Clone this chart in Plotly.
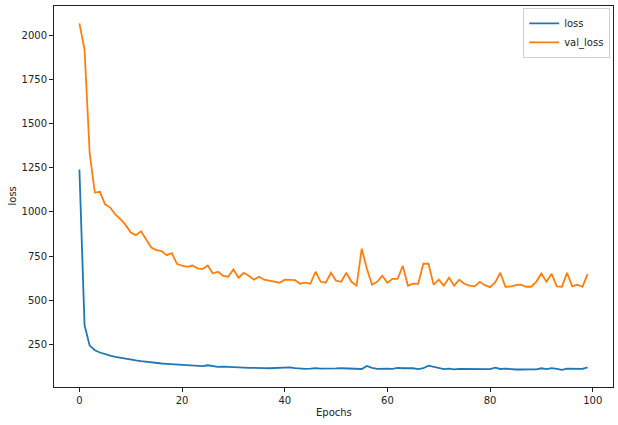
import plotly.graph_objects as go

# Training history
epochs = list(range(100))

loss = [
    1240, 360, 244, 218, 205, 195, 188, 181, 175, 169,
    164, 160, 156, 152, 148, 145, 143, 141, 139, 137,
    135, 134, 132, 130, 128, 133, 129, 124, 125, 123,
    120, 121, 119, 118, 118, 119, 117, 116, 117, 115,
    116, 121, 117, 114, 112, 114, 117, 114, 113, 115,
    115, 116, 115, 118, 114, 112, 129, 118, 112, 114,
    114, 113, 118, 116, 117, 116, 111, 116, 131, 125,
    116, 111, 114, 110, 112, 112, 112, 111, 112, 110,
    111, 119, 112, 114, 110, 109, 109, 111, 110, 110,
    116, 111, 117, 113, 107, 114, 112, 111, 112, 121,
]

val_loss = [
    2067, 1919, 1333, 1110, 1114, 1043, 1025, 986, 959, 927,
    884, 869, 891, 843, 799, 784, 779, 756, 767, 707,
    696, 690, 697, 681, 677, 697, 652, 662, 639, 634,
    675, 628, 656, 639, 617, 634, 617, 611, 605, 600,
    617, 617, 614, 594, 600, 594, 662, 605, 600, 656,
    611, 605, 656, 605, 583, 792, 679, 589, 605, 639,
    600, 622, 622, 696, 583, 594, 594, 707, 707, 589,
    617, 583, 628, 583, 617, 594, 583, 579, 605, 586,
    575, 602, 656, 577, 578, 586, 589, 577, 577, 605,
    652, 605, 650, 579, 577, 656, 579, 589, 577, 648,
]

x_ticks = [0, 20, 40, 60, 80, 100]
y_ticks = [250, 500, 750, 1000, 1250, 1500, 1750, 2000]

FONT = "DejaVu Sans, sans-serif"

fig = go.Figure()
fig.add_trace(go.Scatter(x=epochs, y=loss, mode="lines", name="loss",
                         line=dict(color="#1f77b4", width=1.8)))
fig.add_trace(go.Scatter(x=epochs, y=val_loss, mode="lines", name="val_loss",
                         line=dict(color="#ff7f0e", width=1.8)))

axis_style = dict(
    showline=True, linecolor="#222", linewidth=1, mirror=True,
    ticks="outside", ticklen=4, tickcolor="#222", tickwidth=1,
    showgrid=False, zeroline=False, automargin=False,
    tickfont=dict(family=FONT, size=10, color="#222"),
)

fig.update_layout(
    width=618, height=425,
    plot_bgcolor="white", paper_bgcolor="white",
    margin=dict(l=54, r=5, t=6, b=38, autoexpand=False),
    font=dict(family=FONT, size=10, color="#222"),
    legend=dict(x=0.995, y=0.995, xanchor="right", yanchor="top",
                bordercolor="#d0d0d0", borderwidth=1, bgcolor="white",
                itemwidth=30, tracegroupgap=0,
                font=dict(family=FONT, size=10)),
    showlegend=True,
)
fig.update_xaxes(range=[-4.95, 103.95], tickvals=x_ticks, **axis_style)
fig.update_yaxes(range=[10, 2165], tickvals=y_ticks, **axis_style)

# axis titles placed as annotations so they sit where the reference has them
fig.add_annotation(text="Epochs", xref="paper", yref="paper", x=0.5, y=0,
                   yshift=-25, showarrow=False, yanchor="middle",
                   font=dict(family=FONT, size=10, color="#222"))
fig.add_annotation(text="loss", xref="paper", yref="paper", x=0, y=0.5,
                   xshift=-42, showarrow=False, textangle=-90, xanchor="center",
                   font=dict(family=FONT, size=10, color="#222"))

# drop the page's default body margin so the figure sits at the window's corner
fig.write_html("out.html", config={"displayModeBar": False},
               post_script="document.body.style.margin='0';")
